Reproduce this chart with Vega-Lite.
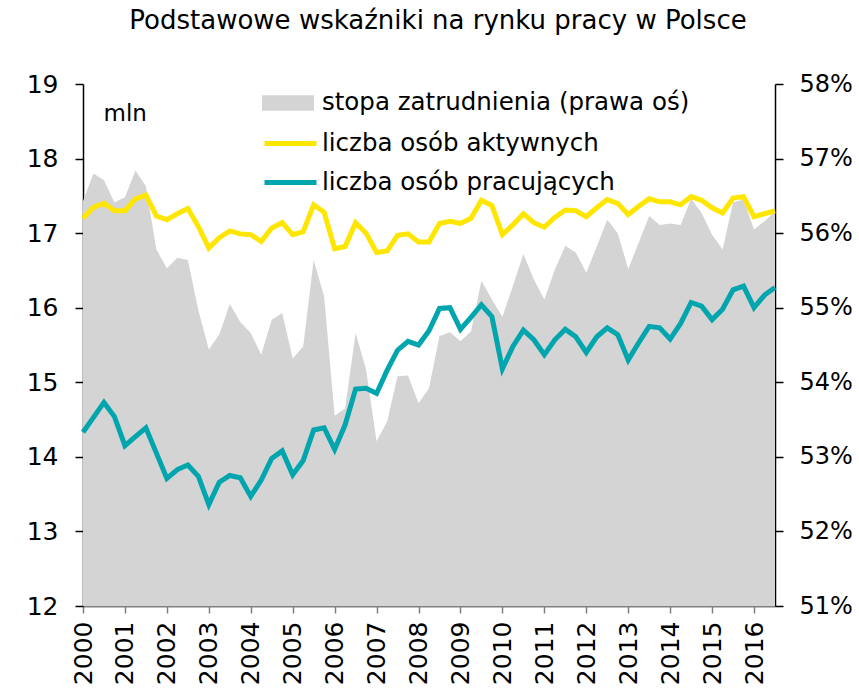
{
  "$schema": "https://vega.github.io/schema/vega-lite/v6.json",
  "autosize": {"type": "none"},
  "padding": {"left": 83, "top": 84, "right": 84, "bottom": 84},
  "width": 692,
  "height": 522,
  "background": "white",
  "title": {"text": "Podstawowe wskaźniki na rynku pracy w Polsce", "fontSize": 26, "font": "DejaVu Sans", "fontWeight": "normal", "color": "black", "anchor": "middle", "dx": 9, "offset": 38},
  "config": {
    "view": {"stroke": null},
    "font": "DejaVu Sans",
    "axis": {"labelFont": "DejaVu Sans", "labelFontSize": 25, "labelColor": "black", "grid": false, "domainColor": "black", "tickColor": "black", "domainWidth": 1.5, "tickWidth": 1.5, "tickSize": 8},
    "legend": {"orient": "none", "title": null, "padding": 0, "labelFontSize": 24.5, "labelColor": "black", "labelFont": "DejaVu Sans", "labelLimit": 600, "symbolSize": 676, "rowPadding": 12, "labelOffset": 21, "symbolOpacity": 1}
  },
  "data": {"values": [
    {"t": 2000.00, "akt": 17.20, "prac": 14.33, "stopa": 56.43},
    {"t": 2000.25, "akt": 17.35, "prac": 14.53, "stopa": 56.80},
    {"t": 2000.50, "akt": 17.40, "prac": 14.73, "stopa": 56.71},
    {"t": 2000.75, "akt": 17.30, "prac": 14.54, "stopa": 56.41},
    {"t": 2001.00, "akt": 17.30, "prac": 14.15, "stopa": 56.48},
    {"t": 2001.25, "akt": 17.46, "prac": 14.27, "stopa": 56.84},
    {"t": 2001.50, "akt": 17.51, "prac": 14.39, "stopa": 56.63},
    {"t": 2001.75, "akt": 17.23, "prac": 14.05, "stopa": 55.78},
    {"t": 2002.00, "akt": 17.18, "prac": 13.71, "stopa": 55.53},
    {"t": 2002.25, "akt": 17.26, "prac": 13.83, "stopa": 55.67},
    {"t": 2002.50, "akt": 17.33, "prac": 13.89, "stopa": 55.64},
    {"t": 2002.75, "akt": 17.09, "prac": 13.74, "stopa": 54.97},
    {"t": 2003.00, "akt": 16.80, "prac": 13.36, "stopa": 54.44},
    {"t": 2003.25, "akt": 16.94, "prac": 13.66, "stopa": 54.64},
    {"t": 2003.50, "akt": 17.03, "prac": 13.75, "stopa": 55.05},
    {"t": 2003.75, "akt": 16.99, "prac": 13.72, "stopa": 54.81},
    {"t": 2004.00, "akt": 16.98, "prac": 13.47, "stopa": 54.66},
    {"t": 2004.25, "akt": 16.89, "prac": 13.69, "stopa": 54.37},
    {"t": 2004.50, "akt": 17.07, "prac": 13.98, "stopa": 54.84},
    {"t": 2004.75, "akt": 17.14, "prac": 14.08, "stopa": 54.93},
    {"t": 2005.00, "akt": 16.98, "prac": 13.76, "stopa": 54.32},
    {"t": 2005.25, "akt": 17.02, "prac": 13.95, "stopa": 54.48},
    {"t": 2005.50, "akt": 17.38, "prac": 14.36, "stopa": 55.64},
    {"t": 2005.75, "akt": 17.28, "prac": 14.39, "stopa": 55.15},
    {"t": 2006.00, "akt": 16.79, "prac": 14.10, "stopa": 53.55},
    {"t": 2006.25, "akt": 16.82, "prac": 14.43, "stopa": 53.65},
    {"t": 2006.50, "akt": 17.14, "prac": 14.91, "stopa": 54.66},
    {"t": 2006.75, "akt": 17.00, "prac": 14.92, "stopa": 54.17},
    {"t": 2007.00, "akt": 16.74, "prac": 14.85, "stopa": 53.21},
    {"t": 2007.25, "akt": 16.76, "prac": 15.16, "stopa": 53.47},
    {"t": 2007.50, "akt": 16.97, "prac": 15.43, "stopa": 54.08},
    {"t": 2007.75, "akt": 16.99, "prac": 15.55, "stopa": 54.09},
    {"t": 2008.00, "akt": 16.88, "prac": 15.50, "stopa": 53.72},
    {"t": 2008.25, "akt": 16.88, "prac": 15.69, "stopa": 53.92},
    {"t": 2008.50, "akt": 17.13, "prac": 15.99, "stopa": 54.62},
    {"t": 2008.75, "akt": 17.16, "prac": 16.00, "stopa": 54.67},
    {"t": 2009.00, "akt": 17.13, "prac": 15.71, "stopa": 54.55},
    {"t": 2009.25, "akt": 17.20, "prac": 15.87, "stopa": 54.68},
    {"t": 2009.50, "akt": 17.44, "prac": 16.04, "stopa": 55.36},
    {"t": 2009.75, "akt": 17.37, "prac": 15.88, "stopa": 55.11},
    {"t": 2010.00, "akt": 16.98, "prac": 15.18, "stopa": 54.88},
    {"t": 2010.25, "akt": 17.11, "prac": 15.48, "stopa": 55.29},
    {"t": 2010.50, "akt": 17.26, "prac": 15.70, "stopa": 55.72},
    {"t": 2010.75, "akt": 17.14, "prac": 15.57, "stopa": 55.38},
    {"t": 2011.00, "akt": 17.08, "prac": 15.37, "stopa": 55.11},
    {"t": 2011.25, "akt": 17.21, "prac": 15.57, "stopa": 55.51},
    {"t": 2011.50, "akt": 17.31, "prac": 15.71, "stopa": 55.83},
    {"t": 2011.75, "akt": 17.30, "prac": 15.61, "stopa": 55.74},
    {"t": 2012.00, "akt": 17.22, "prac": 15.40, "stopa": 55.47},
    {"t": 2012.25, "akt": 17.34, "prac": 15.61, "stopa": 55.82},
    {"t": 2012.50, "akt": 17.45, "prac": 15.73, "stopa": 56.18},
    {"t": 2012.75, "akt": 17.40, "prac": 15.64, "stopa": 56.00},
    {"t": 2013.00, "akt": 17.25, "prac": 15.30, "stopa": 55.52},
    {"t": 2013.25, "akt": 17.36, "prac": 15.53, "stopa": 55.87},
    {"t": 2013.50, "akt": 17.46, "prac": 15.75, "stopa": 56.23},
    {"t": 2013.75, "akt": 17.42, "prac": 15.73, "stopa": 56.11},
    {"t": 2014.00, "akt": 17.42, "prac": 15.58, "stopa": 56.13},
    {"t": 2014.25, "akt": 17.38, "prac": 15.79, "stopa": 56.11},
    {"t": 2014.50, "akt": 17.49, "prac": 16.07, "stopa": 56.46},
    {"t": 2014.75, "akt": 17.44, "prac": 16.02, "stopa": 56.27},
    {"t": 2015.00, "akt": 17.34, "prac": 15.84, "stopa": 55.98},
    {"t": 2015.25, "akt": 17.27, "prac": 15.98, "stopa": 55.78},
    {"t": 2015.50, "akt": 17.47, "prac": 16.24, "stopa": 56.41},
    {"t": 2015.75, "akt": 17.49, "prac": 16.29, "stopa": 56.45},
    {"t": 2016.00, "akt": 17.22, "prac": 16.00, "stopa": 56.05},
    {"t": 2016.25, "akt": 17.26, "prac": 16.17, "stopa": 56.16},
    {"t": 2016.50, "akt": 17.30, "prac": 16.27, "stopa": 56.29}
  ]},
  "encoding": {
    "x": {"field": "t", "type": "quantitative", "scale": {"domain": [2000, 2016.5], "nice": false, "zero": false},
      "axis": {"values": [2000,2001,2002,2003,2004,2005,2006,2007,2008,2009,2010,2011,2012,2013,2014,2015,2016], "format": "d", "title": null, "labelAngle": -90, "labelAlign": "right", "labelBaseline": "middle", "labelPadding": 8, "tickSize": 7, "domainColor": "#808080", "tickColor": "#808080", "domainWidth": 2, "labelFontSize": 25}}
  },
  "layer": [
    {
      "mark": {"type": "area", "color": "#d4d4d4"},
      "encoding": {
        "y": {"field": "stopa", "type": "quantitative", "scale": {"domain": [51, 58], "nice": false, "zero": false},
          "axis": {"orient": "right", "values": [51,52,53,54,55,56,57,58], "labelExpr": "datum.value + '%'", "title": null, "labelPadding": 16, "labelFontSize": 24}},
        "y2": {"datum": 51},
        "color": {"datum": "stopa zatrudnienia (prawa oś)", "type": "nominal",
          "scale": {"domain": ["stopa zatrudnienia (prawa oś)"], "range": ["#d4d4d4"]},
          "legend": {"legendX": 192, "legendY": 6, "symbolType": "M-2,-0.6H2V0.6H-2Z", "symbolStrokeWidth": 0}}
      }
    },
    {
      "layer": [
        {
          "mark": {"type": "line", "strokeWidth": 5},
          "encoding": {
            "y": {"field": "akt", "type": "quantitative", "scale": {"domain": [12, 19], "nice": false, "zero": false},
              "axis": {"orient": "left", "values": [12,13,14,15,16,17,18,19], "title": "mln", "titleAngle": 0, "titleX": 20, "titleY": 29, "titleAlign": "left", "titleBaseline": "middle", "titleFontSize": 23, "titleFontWeight": "normal", "titleColor": "black", "labelPadding": 17}},
            "color": {"datum": "liczba osób aktywnych", "type": "nominal",
              "scale": {"domain": ["liczba osób aktywnych", "liczba osób pracujących"], "range": ["#ffe600", "#00a5ad"]},
              "legend": {"legendX": 192, "legendY": 44, "symbolType": "M-2,0H2", "symbolStrokeWidth": 5, "labelOffset": 16}}
          }
        },
        {
          "mark": {"type": "line", "strokeWidth": 5},
          "encoding": {
            "y": {"field": "prac", "type": "quantitative", "scale": {"domain": [12, 19], "nice": false, "zero": false},
              "axis": {"orient": "left", "values": [12,13,14,15,16,17,18,19], "title": "mln", "titleAngle": 0, "titleX": 20, "titleY": 29, "titleAlign": "left", "titleBaseline": "middle", "titleFontSize": 23, "titleFontWeight": "normal", "titleColor": "black", "labelPadding": 17}},
            "color": {"datum": "liczba osób pracujących", "type": "nominal"}
          }
        }
      ]
    }
  ],
  "resolve": {"scale": {"y": "independent", "color": "independent"}}
}
